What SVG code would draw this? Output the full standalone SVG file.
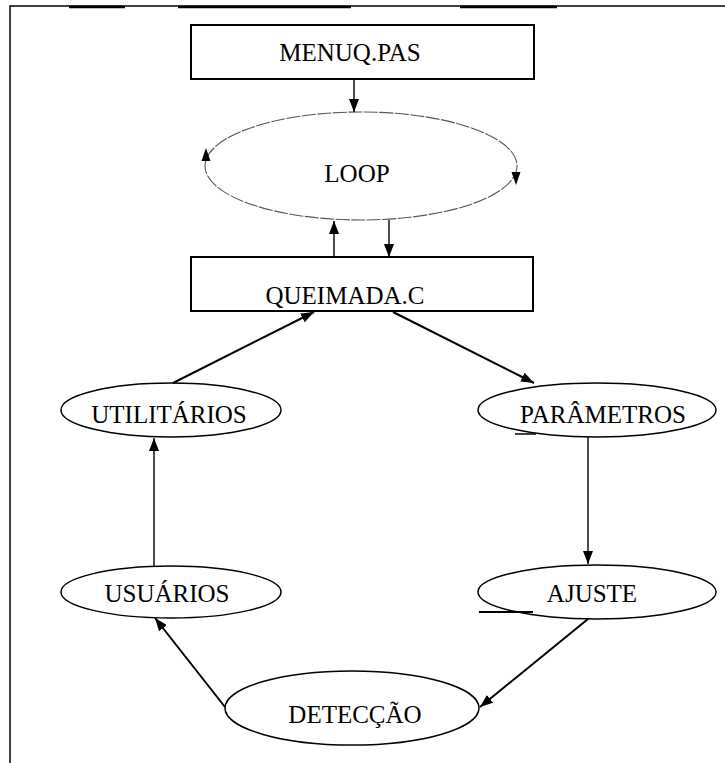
<svg xmlns="http://www.w3.org/2000/svg" width="725" height="763" viewBox="0 0 725 763">
<style>
.bg{fill:#fff}
.frame{stroke:#000;stroke-width:1.5;fill:none}
.ul{stroke:#000;stroke-width:2.5}
.box{fill:#fff;stroke:#000;stroke-width:2}
.ell{fill:#fff;stroke:#000;stroke-width:1.5}
.loop{fill:none;stroke:#555;stroke-width:1.1;stroke-dasharray:14 1.5}
.lbl{font-family:"Liberation Serif","Times New Roman",serif;font-size:25px;fill:#000;text-anchor:middle}
.c{stroke:#000;fill:none}
.thick{stroke-width:2}
.thin{stroke-width:1.4}
.head{fill:#000}
</style>
<defs>
<marker id="ah" markerUnits="userSpaceOnUse" markerWidth="13" markerHeight="10" refX="13" refY="5" orient="auto">
<path d="M0,0 L13,5 L0,10 z" fill="#000"/>
</marker>
</defs>
<rect class="bg" x="0" y="0" width="725" height="763"/>
<g id="frame">
<path class="frame" d="M10,763 V6 H725"/>
<line class="ul" x1="69" y1="7" x2="125" y2="7"/>
<line class="ul" x1="178" y1="7" x2="351" y2="7"/>
<line class="ul" x1="460" y1="7" x2="557" y2="7"/>
</g>
<g id="menuq">
<rect class="box" x="191" y="25" width="343" height="54"/>
<text class="lbl" x="350" y="61">MENUQ.PAS</text>
</g>
<g id="loop">
<ellipse class="loop" cx="361" cy="166" rx="156" ry="54"/>
<polygon class="head" points="206,148 201.5,161 210.5,161"/>
<polygon class="head" points="516,185 511.5,172 520.5,172"/>
<text class="lbl" x="357" y="182">LOOP</text>
</g>
<g id="queimada">
<rect class="box" x="191" y="257" width="342" height="54"/>
<text class="lbl" x="345" y="304">QUEIMADA.C</text>
</g>
<g id="utilitarios">
<ellipse class="ell" cx="171" cy="410" rx="110" ry="27"/>
<text class="lbl" x="169" y="423">UTILITÁRIOS</text>
</g>
<g id="parametros">
<ellipse class="ell" cx="597" cy="410" rx="119" ry="27"/>
<line class="ul" x1="515" y1="434" x2="536" y2="434" style="stroke-width:1.5"/>
<text class="lbl" x="603" y="423">PARÂMETROS</text>
</g>
<g id="usuarios">
<ellipse class="ell" cx="171" cy="592" rx="110" ry="26"/>
<text class="lbl" x="167" y="602">USUÁRIOS</text>
</g>
<g id="ajuste">
<ellipse class="ell" cx="597" cy="592" rx="119" ry="27"/>
<line class="ul" x1="479" y1="612" x2="533" y2="612" style="stroke-width:2"/>
<text class="lbl" x="592" y="602">AJUSTE</text>
</g>
<g id="deteccao">
<ellipse class="ell" cx="352" cy="708" rx="127" ry="37"/>
<text class="lbl" x="355" y="723">DETECÇÃO</text>
</g>
<g id="connectors">
<line class="c thin" x1="354" y1="80" x2="354" y2="112" marker-end="url(#ah)"/>
<line class="c thin" x1="334" y1="257" x2="334" y2="221" marker-end="url(#ah)"/>
<line class="c thin" x1="389" y1="220" x2="389" y2="257" marker-end="url(#ah)"/>
<line class="c thick" x1="173" y1="383" x2="314" y2="312" marker-end="url(#ah)"/>
<line class="c thick" x1="393" y1="312" x2="534" y2="383" marker-end="url(#ah)"/>
<line class="c thin" x1="588" y1="437" x2="588" y2="564" marker-end="url(#ah)"/>
<line class="c thick" x1="588" y1="619" x2="480" y2="707" marker-end="url(#ah)"/>
<line class="c thick" x1="225" y1="707" x2="155" y2="618" marker-end="url(#ah)"/>
<line class="c thin" x1="154" y1="566" x2="154" y2="438" marker-end="url(#ah)"/>
</g>
</svg>
